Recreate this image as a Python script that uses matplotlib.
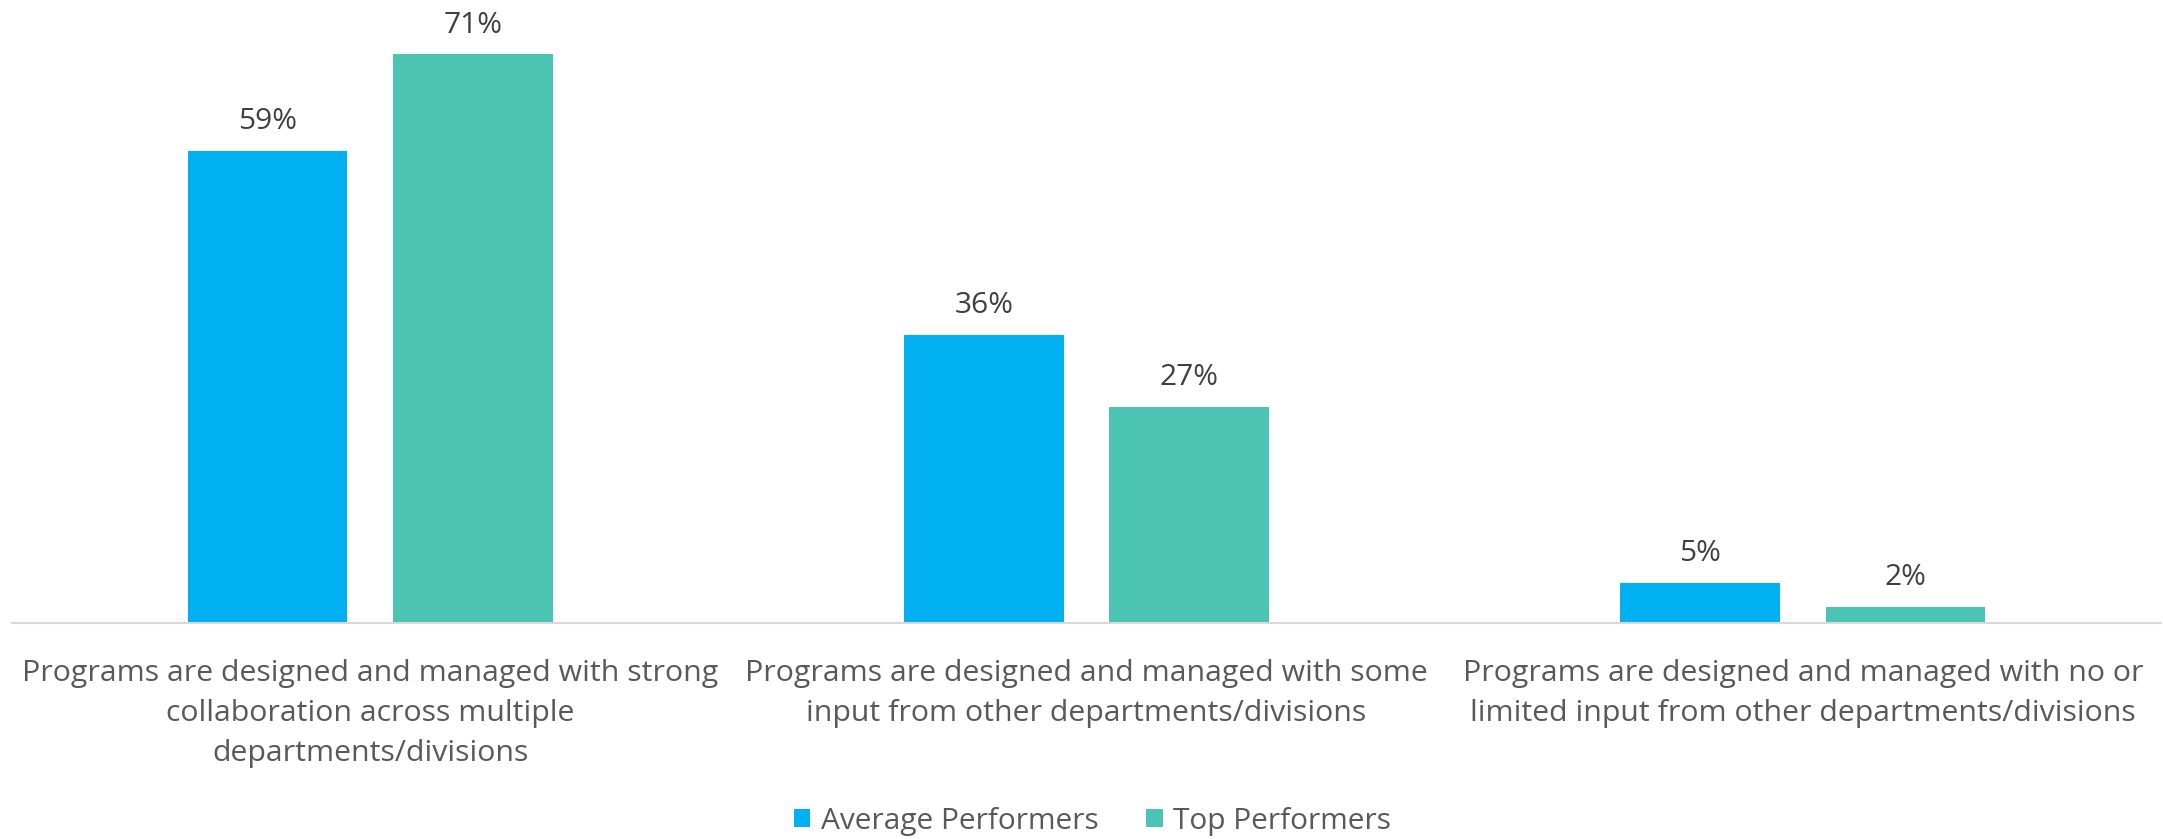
import numpy as np
import matplotlib.pyplot as plt
from matplotlib.patches import Patch

plt.rcParams['font.family'] = ['Open Sans', 'DejaVu Sans']

categories = [
    'Programs are designed and managed with strong\ncollaboration across multiple\ndepartments/divisions',
    'Programs are designed and managed with some\ninput from other departments/divisions',
    'Programs are designed and managed with no or\nlimited input from other departments/divisions',
]
series_names = ['Average Performers', 'Top Performers']
average_performers = [59, 36, 5]
top_performers = [71, 27, 2]

colors = ['#00B0F0', '#4BC4B3']
label_color = '#404040'
tick_color = '#595959'

fig = plt.figure(figsize=(21.63, 8.39), dpi=100)
ax = fig.add_axes([12 / 2163, 1 - 623 / 839, 2149 / 2163, 623 / 839])

x = np.arange(len(categories))
width = 0.223
offset = 0.1435
for vals, dx, color in zip([average_performers, top_performers],
                           [-offset, offset], colors):
    bars = ax.bar(x + dx, vals, width=width, color=color, zorder=2)
    for b, v in zip(bars, vals):
        ax.annotate('{}%'.format(v), (b.get_x() + b.get_width() / 2, v),
                    xytext=(0, 21), textcoords='offset points',
                    ha='center', va='center', fontsize=21.5, color=label_color)

ax.set_xlim(-0.5, len(categories) - 0.5)
ax.set_ylim(0, 77.8)
ax.set_yticks([])
ax.set_xticks(x)
ax.set_xticklabels(categories, fontsize=21.8, color=tick_color, linespacing=1.5)
ax.tick_params(axis='x', length=0, pad=26)
for side in ['top', 'right', 'left']:
    ax.spines[side].set_visible(False)
ax.spines['bottom'].set_color('#D9D9D9')
ax.spines['bottom'].set_linewidth(1.5)

handles = [Patch(facecolor=c, label=n) for c, n in zip(colors, series_names)]
fig.legend(handles=handles, loc='center', bbox_to_anchor=(0.505, 1 - 821 / 839),
           ncol=2, frameon=False, fontsize=21.5, handlelength=0.55,
           handleheight=0.55, handletextpad=0.35, columnspacing=1.6,
           labelcolor=tick_color)

fig.savefig('out.png', dpi=100)
